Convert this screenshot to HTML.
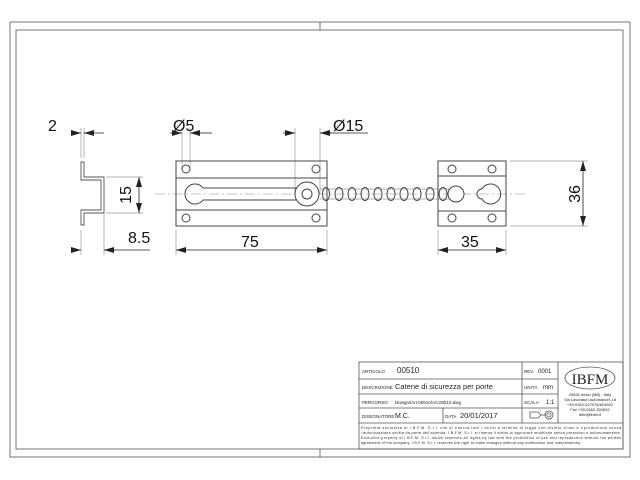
<!DOCTYPE html>
<html><head><meta charset="utf-8"><style>
html,body{margin:0;padding:0;background:#fff;}
svg{display:block;font-family:"Liberation Sans",sans-serif;}
.t{font-family:"Liberation Sans",sans-serif;}
</style></head><body>
<svg width="640" height="480" viewBox="0 0 640 480" xmlns="http://www.w3.org/2000/svg">
<defs>
<marker id="a" viewBox="0 0 10 6" refX="10" refY="3" markerWidth="10" markerHeight="6" orient="auto-start-reverse" markerUnits="userSpaceOnUse"><path d="M0,0 L10,3 L0,6 z" fill="#222"/></marker>
</defs>
<g fill="none" stroke="#777" stroke-width="1">
<rect x="10" y="22" width="620" height="435"/>
<rect x="16" y="30" width="607" height="419"/>
<line x1="320" y1="22" x2="320" y2="30"/>
<line x1="320" y1="449" x2="320" y2="457"/>
</g>
<g fill="none" stroke="#555" stroke-width="0.9">
<path d="M81,162 L81,180 L101,180 L101,210 L81,210 L81,225 L84,225 L84,213 L104,213 L104,177 L84,177 L84,162 Z"/>
</g>
<g stroke="#999" stroke-width="0.7" fill="none">
<line x1="81" y1="128" x2="81" y2="158"/><line x1="84" y1="128" x2="84" y2="158"/>
<line x1="81" y1="230" x2="81" y2="255"/><line x1="104" y1="214" x2="104" y2="255"/>
<line x1="106" y1="177" x2="143" y2="177"/><line x1="106" y1="213" x2="143" y2="213"/>
<line x1="176" y1="230" x2="176" y2="255"/><line x1="327" y1="230" x2="327" y2="255"/>
<line x1="438" y1="230" x2="438" y2="255"/><line x1="506" y1="230" x2="506" y2="255"/>
<line x1="510" y1="161" x2="588" y2="161"/><line x1="510" y1="226" x2="588" y2="226"/>
<line x1="182" y1="128" x2="182" y2="168"/><line x1="190" y1="128" x2="190" y2="168"/>
<line x1="295" y1="128" x2="295" y2="194"/><line x1="320" y1="128" x2="320" y2="194"/>
</g>
<g stroke="#222" stroke-width="0.8" fill="none">
<line x1="72" y1="133" x2="81" y2="133" marker-end="url(#a)"/><line x1="93" y1="133" x2="84" y2="133" marker-end="url(#a)"/>
<line x1="104" y1="133" x2="84" y2="133"/>
<line x1="139" y1="177" x2="139" y2="213" marker-start="url(#a)" marker-end="url(#a)"/>
<line x1="72" y1="250" x2="81" y2="250" marker-end="url(#a)"/><line x1="115" y1="250" x2="104" y2="250" marker-end="url(#a)"/>
<line x1="104" y1="250" x2="150" y2="250"/>
<line x1="176" y1="250" x2="327" y2="250" marker-start="url(#a)" marker-end="url(#a)"/>
<line x1="438" y1="250" x2="506" y2="250" marker-start="url(#a)" marker-end="url(#a)"/>
<line x1="583" y1="161" x2="583" y2="226" marker-start="url(#a)" marker-end="url(#a)"/>
<line x1="170" y1="133" x2="182" y2="133" marker-end="url(#a)"/><line x1="202" y1="133" x2="190" y2="133" marker-end="url(#a)"/>
<line x1="202" y1="133" x2="212" y2="133"/>
<line x1="283" y1="133" x2="295" y2="133" marker-end="url(#a)"/><line x1="332" y1="133" x2="320" y2="133" marker-end="url(#a)"/>
<line x1="320" y1="133" x2="368" y2="133"/>
</g>
<line x1="155" y1="194" x2="528" y2="194" stroke="#888" stroke-width="0.6" stroke-dasharray="10,3,2,3"/>
<g fill="none" stroke="#444" stroke-width="1">
<rect x="176" y="161" width="151" height="65"/>
<line x1="176" y1="178" x2="327" y2="178"/><line x1="176" y1="210" x2="327" y2="210"/>
<circle cx="186" cy="169" r="4"/><circle cx="316" cy="169" r="4"/>
<circle cx="186" cy="218" r="4"/><circle cx="316" cy="218" r="4"/>
<path d="M203,188 A10,10 0 1 0 203,200 L296,200 L296,188 Z"/>
<circle cx="307" cy="194" r="12" fill="#fff"/><circle cx="307" cy="194" r="5"/>
</g>
<g fill="none" stroke="#444" stroke-width="1">
<line x1="320" y1="189" x2="450" y2="189" stroke="#666" stroke-width="0.6"/>
<line x1="320" y1="199" x2="450" y2="199" stroke="#666" stroke-width="0.6"/>
<ellipse cx="326" cy="194" rx="3.5" ry="6.5"/><ellipse cx="339" cy="194" rx="4" ry="6.5"/>
<ellipse cx="352" cy="194" rx="4" ry="6.5"/><ellipse cx="365" cy="194" rx="4" ry="6.5"/>
<ellipse cx="378" cy="194" rx="4" ry="6.5"/><ellipse cx="391" cy="194" rx="4" ry="6.5"/>
<ellipse cx="404" cy="194" rx="4" ry="6.5"/><ellipse cx="417" cy="194" rx="4" ry="6.5"/>
<ellipse cx="430" cy="194" rx="4" ry="6.5"/><ellipse cx="443" cy="194" rx="4" ry="6.5"/>
</g>
<g fill="none" stroke="#444" stroke-width="1">
<rect x="438" y="161" width="68" height="65"/>
<line x1="438" y1="176" x2="506" y2="176"/><line x1="438" y1="211" x2="506" y2="211"/>
<circle cx="452" cy="169" r="4"/><circle cx="492" cy="169" r="4"/>
<circle cx="452" cy="218" r="4"/><circle cx="492" cy="218" r="4"/>
<circle cx="456" cy="194" r="8" fill="#fff"/>
<path d="M482,189 A10,10 0 1 1 482,199 A5,5 0 0 1 482,189 Z"/>
</g>
<g class="t" font-size="16" fill="#111">
<text x="48" y="131">2</text>
<text x="173" y="131">Ø5</text>
<text x="333" y="131">Ø15</text>
<text x="128" y="243">8.5</text>
<text x="241" y="247">75</text>
<text x="461" y="247">35</text>
<text transform="translate(131,195) rotate(-90)" text-anchor="middle">15</text>
<text transform="translate(580,194) rotate(-90)" text-anchor="middle">36</text>
</g>
<g fill="none" stroke="#555" stroke-width="0.8">
<rect x="359" y="362" width="264" height="87"/>
<line x1="359" y1="379" x2="558" y2="379"/>
<line x1="359" y1="394" x2="558" y2="394"/>
<line x1="359" y1="408" x2="558" y2="408"/>
<line x1="359" y1="423" x2="623" y2="423"/>
<line x1="522" y1="362" x2="522" y2="423"/>
<line x1="558" y1="362" x2="558" y2="423"/>
<line x1="443" y1="408" x2="443" y2="423"/>
<ellipse cx="590" cy="378" rx="25" ry="11"/>
<path d="M530,412 L538,412 L541,415 L538,418 L530,418 Z M541,415 L546,415" />
<circle cx="549" cy="415" r="4"/><circle cx="549" cy="415" r="2"/>
</g>
<g class="t" fill="#222">
<text x="362" y="373" font-size="4.5">ARTICOLO</text>
<text x="397" y="373" font-size="8">00510</text>
<text x="362" y="389" font-size="4.5">DESCRIZIONE</text>
<text x="395" y="389" font-size="7.5">Catene di sicurezza per porte</text>
<text x="362" y="404" font-size="4.5">PERCORSO</text>
<text x="395" y="404" font-size="4.5">Disegni/Art.00510/Art.00510.dwg</text>
<text x="362" y="418" font-size="4.5">DISEGNATORE</text>
<text x="395" y="418" font-size="7">M.C.</text>
<text x="445" y="418" font-size="4.5">DATA</text>
<text x="460" y="418" font-size="7.5">20/01/2017</text>
<text x="524" y="373" font-size="4.5">REV.</text>
<text x="538" y="373" font-size="6">0001</text>
<text x="524" y="389" font-size="4.5">UNITÀ</text>
<text x="543" y="389" font-size="6">mm</text>
<text x="524" y="404" font-size="4.5">SCALA</text>
<text x="546" y="404" font-size="6">1:1</text>
<text x="590" y="384" font-size="15" text-anchor="middle" font-family="Liberation Serif,serif">IBFM</text>
<g font-size="4" text-anchor="middle">
<text x="590" y="396">20832 desio (MB) - Italy</text>
<text x="590" y="401">Via Lavoratori Autobianchi,18</text>
<text x="590" y="406">+39-0362-627076/624502</text>
<text x="590" y="411">Fax +39-0362-302692</text>
<text x="590" y="416">ibfm@ibfm.it</text>
</g>
<g font-size="3.6">
<text x="361" y="429" textLength="260">Proprietà esclusiva di I.B.F.M. S.r.l. che si riserva tutti i diritti a termine di legge con divieto d'uso e riproduzione senza</text>
<text x="361" y="434" textLength="260">l'autorizzazione scritta da parte dell'azienda. I.B.F.M. S.r.l. si riserva il diritto di apportare modifiche senza preavviso e autonomamente.</text>
<text x="361" y="439" textLength="260">Exclusive property of I.B.F.M. S.r.l. which reserves all rights by law with the prohibition of use and reproduction without the written</text>
<text x="361" y="444" textLength="220">agreement of the company. I.B.F.M. S.r.l. reserves the right to make changes without any notification and independently.</text>
</g>
</g>
</svg>
</body></html>
